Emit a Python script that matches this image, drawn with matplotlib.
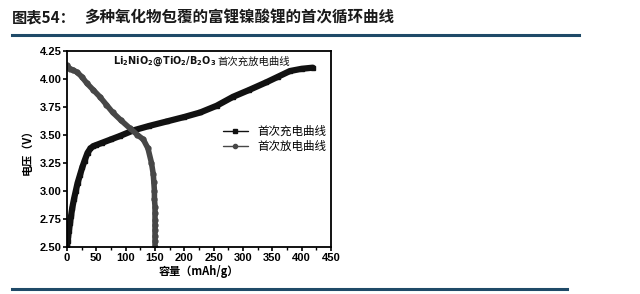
import matplotlib.pyplot as plt

plt.rcParams['font.family'] = ['Liberation Sans', 'Noto Sans CJK SC', 'DejaVu Sans']

# first charge curve (capacity mAh/g, voltage V)
charge_x = [0, 1, 2, 3, 4, 5, 7, 9, 12, 15, 18, 22, 26, 30, 35, 40, 45, 50, 60, 75,
            90, 113, 140, 170, 200, 227, 255, 283, 310, 340, 360, 380, 400, 419]
charge_y = [2.50, 2.55, 2.60, 2.64, 2.68, 2.71, 2.78, 2.85, 2.93, 3.00, 3.07, 3.14, 3.21,
            3.27, 3.34, 3.38, 3.40, 3.41, 3.43, 3.46, 3.49, 3.54, 3.58, 3.62, 3.66, 3.70,
            3.76, 3.84, 3.90, 3.97, 4.02, 4.07, 4.09, 4.10]

# first discharge curve
discharge_x = [0, 5, 10, 17, 25, 34, 45, 56, 67, 78, 92, 107, 120, 130, 138, 144, 147,
               148, 149, 149, 150, 150, 150, 150, 150, 150, 150, 150]
discharge_y = [4.12, 4.09, 4.08, 4.06, 4.02, 3.96, 3.90, 3.84, 3.77, 3.70, 3.63, 3.56,
               3.50, 3.46, 3.38, 3.25, 3.15, 3.08, 3.00, 2.93, 2.86, 2.80, 2.74, 2.70,
               2.65, 2.60, 2.55, 2.50]

fig = plt.figure(figsize=(6.4, 2.94), dpi=100)
fig.patch.set_facecolor('white')

# header
fig.text(0.018, 0.94, '图表54：', fontsize=11, fontweight='bold', color='#1a1a1a',
         family=['Noto Sans CJK SC'], va='center')
fig.text(0.132, 0.94, '多种氧化物包覆的富锂镍酸锂的首次循环曲线', fontsize=11.2,
         fontweight='bold', color='#1a1a1a', family=['Noto Sans CJK SC'], va='center')
fig.add_artist(plt.Line2D([0.018, 0.905], [0.88, 0.88], color='#1f4a68', lw=2.2))
fig.add_artist(plt.Line2D([0.018, 0.886], [0.018, 0.018], color='#1f4a68', lw=2.2))

ax = fig.add_axes([0.1047, 0.160, 0.4125, 0.667])
ax.plot(charge_x, charge_y, color='#111111', lw=4.5, marker='s', ms=3.5,
        label='首次充电曲线', solid_capstyle='round')
ax.plot(discharge_x, discharge_y, color='#474747', lw=4, marker='o', ms=3.5,
        label='首次放电曲线', solid_capstyle='round')

ax.set_xlim(0, 450)
ax.set_ylim(2.5, 4.25)
ax.set_xticks(range(0, 451, 50))
ax.set_xticks(range(25, 450, 50), minor=True)
ax.set_yticks([2.5, 2.75, 3.0, 3.25, 3.5, 3.75, 4.0, 4.25])
ax.set_yticklabels(['2.50', '2.75', '3.00', '3.25', '3.50', '3.75', '4.00', '4.25'])
ax.tick_params(axis='both', labelsize=8, width=1.2, length=3, pad=1)
ax.tick_params(axis='both', which='minor', width=1, length=2)
for lab in ax.get_xticklabels() + ax.get_yticklabels():
    lab.set_fontweight('bold')
for s in ax.spines.values():
    s.set_linewidth(1.3)

ax.set_xlabel('容量（mAh/g）', fontsize=8, fontweight='bold', labelpad=2,
              family=['Noto Sans CJK SC'])
ax.set_ylabel('电压（V）', fontsize=8, fontweight='bold', labelpad=4,
              family=['Noto Sans CJK SC'])

formula = ax.text(78, 4.155, r'$\mathbf{Li_2NiO_2@TiO_2/B_2O_3}$', fontsize=7,
                  va='center', color='#111111')
ax.annotate('首次充放电曲线', xy=(1, 0.5), xycoords=formula, xytext=(1, 0),
            textcoords='offset points', fontsize=7.5, va='center', color='#111111',
            family=['Noto Sans CJK SC'])

leg = ax.legend(loc='upper left', bbox_to_anchor=(0.55, 0.675), frameon=False,
                handlelength=2.2, labelspacing=0.15,
                prop={'family': ['Noto Sans CJK SC'], 'size': 8.3})
for h in leg.get_lines():
    h.set_linewidth(1)
    h.set_markersize(3)

fig.savefig('out.png', dpi=100)
